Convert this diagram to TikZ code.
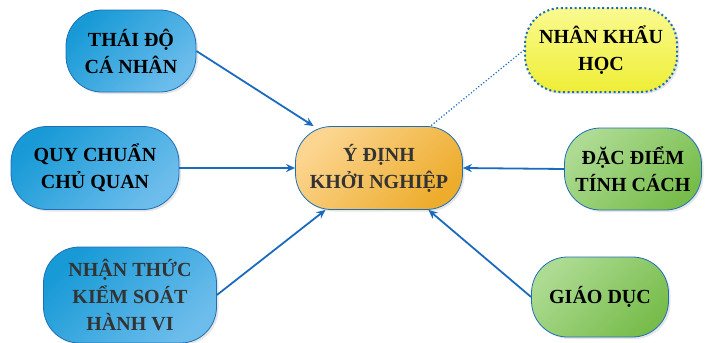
\documentclass[tikz,border=0pt]{standalone}
\usepackage{fontspec}
\setmainfont{Liberation Serif}
\usetikzlibrary{arrows.meta,shadows}

\definecolor{edgeblue}{HTML}{1E6FB8}
\definecolor{lineblue}{HTML}{1A6BBE}
\definecolor{blueA}{HTML}{189AD6}
\definecolor{blueB}{HTML}{6DBDEC}
\definecolor{orangeA}{HTML}{FCD590}
\definecolor{orangeB}{HTML}{EDAC2C}
\definecolor{greenA}{HTML}{ADDB92}
\definecolor{greenB}{HTML}{78BD4C}
\definecolor{yellowA}{HTML}{FAFA90}
\definecolor{yellowB}{HTML}{EEEE36}

\tikzset{
  box/.style={rounded corners=36pt, draw=edgeblue, line width=0.8pt,
    align=center, inner sep=4pt,
    font=\fontsize{20}{27}\selectfont\bfseries,
    drop shadow={opacity=0.2, shadow xshift=2pt, shadow yshift=-2pt}},
  bluebox/.style={box, top color=blueA, bottom color=blueB, shading angle=45},
  orangebox/.style={box, top color=orangeA, bottom color=orangeB, shading angle=45, text=black!80},
  greenbox/.style={box, top color=greenA, bottom color=greenB, shading angle=45},
  yellowbox/.style={box, draw=edgeblue, line width=2pt, dash pattern=on 2pt off 2.6pt,
    top color=yellowA, bottom color=yellowB},
  link/.style={line width=1.8pt, draw=lineblue, -{Stealth[length=9pt,width=8pt]}},
}

\begin{document}
\begin{tikzpicture}[x=1pt,y=-1pt]
  \useasboundingbox (0,0) rectangle (705,343);
  % factors on the left
  \node[bluebox, minimum width=130pt, minimum height=82pt] (thaido) at (131,51) {THÁI ĐỘ\\CÁ NHÂN};
  \node[bluebox, minimum width=168pt, minimum height=83pt] (quychuan) at (95,168) {QUY CHUẨN\\CHỦ QUAN};
  \node[bluebox, minimum width=173pt, minimum height=96pt, text=black!80] (nhanthuc) at (130,295) {NHẬN THỨC\\KIỂM SOÁT\\HÀNH VI};
  % intention
  \node[orangebox, minimum width=167pt, minimum height=83pt] (ydinh) at (379,168) {Ý ĐỊNH\\KHỞI NGHIỆP};
  % factors on the right
  \node[yellowbox, minimum width=152pt, minimum height=84pt] (nhankhau) at (601,50) {NHÂN KHẨU\\HỌC};
  \node[greenbox, minimum width=137pt, minimum height=82pt] (dacdiem) at (633,169) {ĐẶC ĐIỂM\\TÍNH CÁCH};
  \node[greenbox, minimum width=137pt, minimum height=80pt] (giaoduc) at (600,297) {GIÁO DỤC};

  \draw[link] (thaido.east) -- (ydinh);
  \draw[link] (quychuan.east) -- (ydinh.west);
  \draw[link] (nhanthuc.east) -- (ydinh);
  \draw[link] (dacdiem.west) -- (ydinh.east);
  \draw[link] (giaoduc.west) -- (ydinh);
  \draw[lineblue, line width=1.2pt, dash pattern=on 1.2pt off 2pt] (nhankhau.west) -- (ydinh);
\end{tikzpicture}
\end{document}
